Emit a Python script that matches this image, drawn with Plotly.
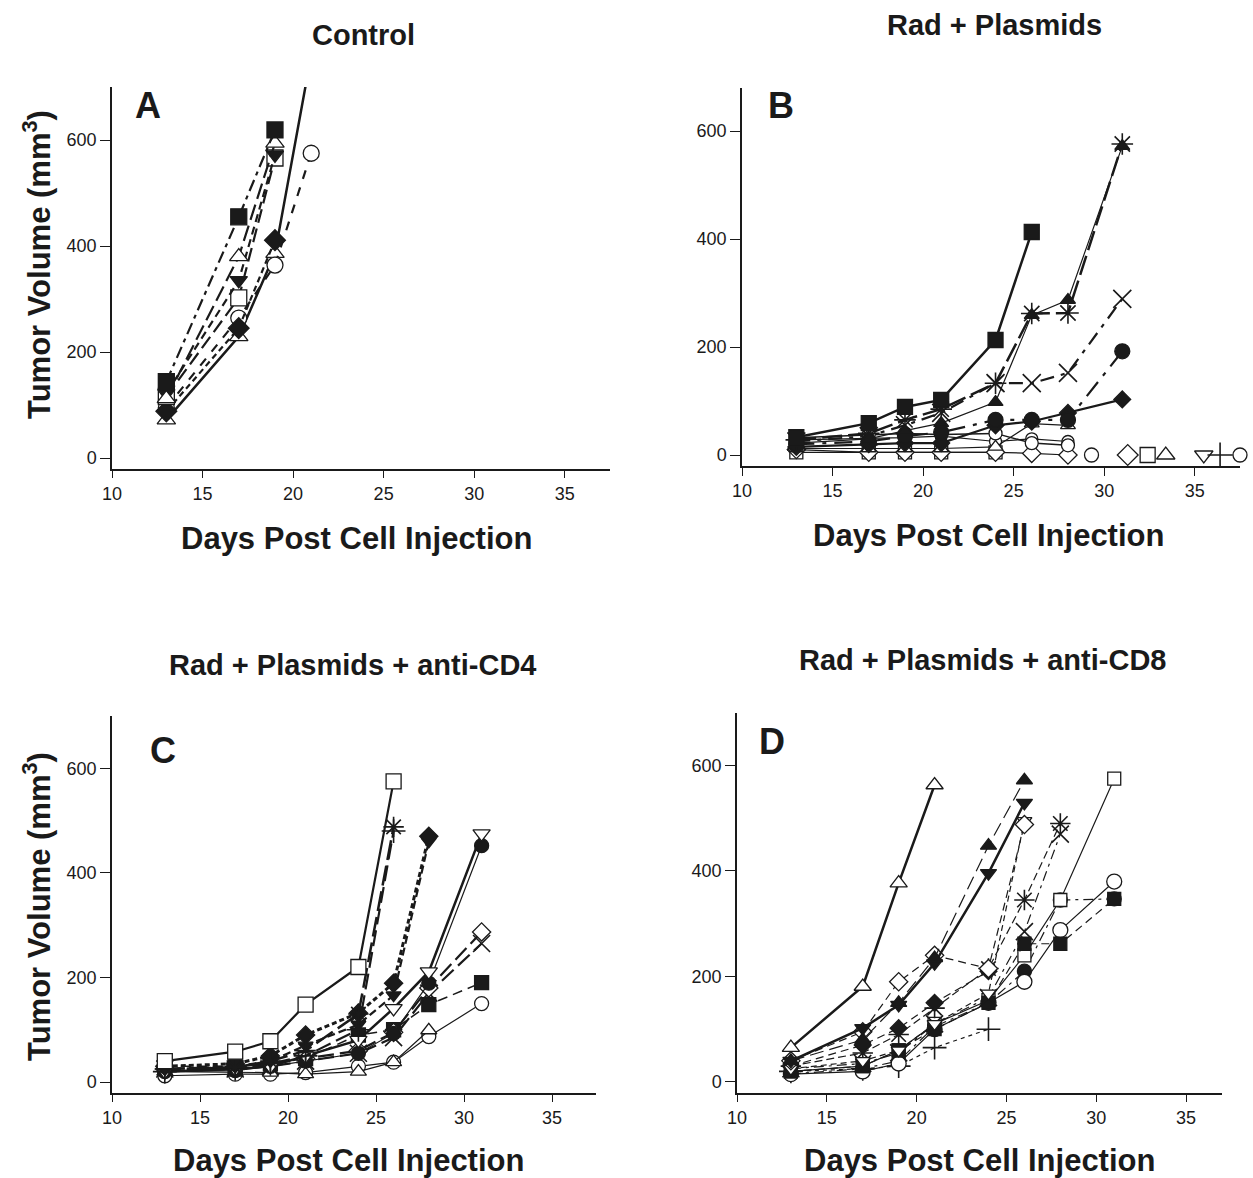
import plotly.graph_objects as go

W, H = 1253, 1178

# ---------------- DATA ----------------
X_TICKS = [10, 15, 20, 25, 30, 35]
Y_TICKS = [0, 200, 400, 600]

# Panel A - Control
A_days3 = [13, 17, 19]
A_days4 = [13, 17, 19, 21]
A_sq_filled = [144, 455, 619]
A_tri_open = [112, 380, 594]
A_tridown_filled = [122, 335, 572]
A_sq_open = [116, 302, 566]
A_circ_open = [95, 264, 364, 575]
A_diam_filled = [88, 245, 411]
A_tri_open2 = [72, 229, 386, 760]

# Panel B - Rad + Plasmids
B_days6 = [13, 17, 19, 21, 24, 26]
B_days7 = [13, 17, 19, 21, 24, 26, 28]
B_days8 = [13, 17, 19, 21, 24, 26, 28, 31]
B_days5 = [13, 17, 19, 21, 24]
B_sq_filled = [33, 59, 89, 102, 213, 413]
B_tri_filled = [22, 30, 45, 59, 98, 259, 287, 572]
B_asterisk = [28, 40, 65, 85, 133, 262, 263, 576]
B_x = [25, 35, 55, 78, 133, 133, 152, 289]
B_circ_filled = [20, 25, 35, 42, 65, 65, 65, 192]
B_diam_filled = [15, 20, 22, 22, 55, 62, 78, 103]
B_tri_open = [12, 12, 12, 12, 15, 58, 55]
B_circ_open = [32, 38, 40, 38, 40, 22, 18]
B_circ_open2 = [28, 30, 32, 35, 25, 30, 25]
B_diam_open = [10, 5, 5, 5, 5, 3, 0]
B_sq_open = [5, 5, 5, 5, 5]
# tumor-free mice shown on the baseline
B_free_circ_days = [29.3, 37.5]
B_free_circ_vals = [0, 0]
B_free_diam_days = [31.3]
B_free_sq_days = [32.4]
B_free_tri_days = [33.4]
B_free_tridown_days = [35.5]
B_free_plus_days = [36.4]
B_free_vals1 = [0]

# Panel C - Rad + Plasmids + anti-CD4
C_days6 = [13, 17, 19, 21, 24, 26]
C_days7 = [13, 17, 19, 21, 24, 26, 28]
C_days8 = [13, 17, 19, 21, 24, 26, 28, 31]
C_sq_open = [40, 58, 78, 148, 220, 575]
C_asterisk = [25, 28, 40, 60, 130, 488]
C_plus = [20, 25, 35, 50, 100, 480]
C_diam_filled = [30, 35, 50, 90, 132, 189, 470]
C_tridown_filled = [25, 30, 40, 70, 110, 166, 460]
C_tridown_open = [20, 25, 30, 50, 80, 141, 211, 475]
C_circ_filled = [20, 22, 30, 40, 55, 93, 189, 452]
C_diam_open = [25, 28, 35, 45, 60, 95, 180, 287]
C_x = [25, 25, 30, 40, 55, 85, 170, 265]
C_sq_filled = [30, 30, 35, 45, 90, 100, 148, 190]
C_tri_open = [20, 18, 18, 15, 20, 38, 99]
C_circ_open = [12, 15, 15, 18, 30, 38, 87, 150]

# Panel D - Rad + Plasmids + anti-CD8
D_days4 = [13, 17, 19, 21]
D_days5 = [13, 17, 19, 21, 24]
D_days6 = [13, 17, 19, 21, 24, 26]
D_days7 = [13, 17, 19, 21, 24, 26, 28]
D_days8 = [13, 17, 19, 21, 24, 26, 28, 31]
D_tri_open = [65, 181, 377, 563]
D_tri_filled = [40, 80, 150, 235, 448, 572]
D_tridown_filled = [40, 102, 146, 225, 396, 529]
D_diam_open = [40, 95, 190, 240, 215, 488]
D_tridown_open = [25, 40, 60, 110, 168, 495]
D_diam_filled = [30, 70, 102, 150, 210]
D_asterisk = [30, 55, 90, 140, 215, 345, 490]
D_x = [25, 35, 55, 110, 160, 285, 470]
D_sq_filled = [20, 30, 60, 100, 150, 262, 262, 347]
D_sq_open = [20, 30, 60, 110, 155, 240, 345, 575]
D_circ_open = [15, 20, 35, 100, 150, 190, 288, 380]
D_circ_filled = [15, 25, 40, 105, 150, 210, 345, 347]
D_plus = [20, 25, 30, 65, 100]

# ---------------- FIGURE ----------------
FONT = "Liberation Sans, Arial, sans-serif"
INK = "#1a1a1a"
fig = go.Figure()

SYM = {
    "sq": "square", "tri": "triangle-up", "trid": "triangle-down", "circ": "circle",
    "diam": "diamond", "x": "x-thin-open", "ast": "asterisk-open", "plus": "cross-thin-open",
}


def add(panel, x, y, sym, filled, dash="solid", width=1.5, size=13, mode="lines+markers", clip=True):
    ax = "" if panel == 1 else str(panel)
    thin = sym in ("x", "ast", "plus")
    fig.add_trace(go.Scatter(
        x=x, y=y, xaxis="x" + ax, yaxis="y" + ax, mode=mode, cliponaxis=clip,
        line=dict(color=INK, width=width, dash=dash),
        marker=dict(symbol=SYM[sym], size=size + (4 if thin else 0),
                    color=INK if (filled or thin) else "white",
                    line=dict(color=INK, width=1.6 if thin else 1.3)),
        showlegend=False, hoverinfo="x+y"))


# Panel A
add(1, A_days4, A_tri_open2, "tri", False, "solid", 2.5, 16)
add(1, A_days4, A_circ_open, "circ", False, "dash", 2.2, 16)
add(1, A_days3, A_diam_filled, "diam", True, "6px,4px", 2.2, 16)
add(1, A_days3, A_sq_open, "sq", False, "14px,6px", 2.2, 16)
add(1, A_days3, A_tridown_filled, "trid", True, "8px,5px", 2.2, 15)
add(1, A_days3, A_tri_open, "tri", False, "16px,6px", 2.2, 16)
add(1, A_days3, A_sq_filled, "sq", True, "12px,5px,4px,5px", 2.2, 16)

# Panel B
add(2, B_days5, B_sq_open, "sq", False, "solid", 1.2, 13)
add(2, B_days7, B_diam_open, "diam", False, "solid", 1.2, 14)
add(2, B_days7, B_circ_open2, "circ", False, "solid", 1.2, 12)
add(2, B_days7, B_circ_open, "circ", False, "solid", 1.5, 13)
add(2, B_days7, B_tri_open, "tri", False, "solid", 1.2, 13)
add(2, B_days8, B_diam_filled, "diam", True, "solid", 2.2, 13)
add(2, B_days8, B_circ_filled, "circ", True, "18px,8px,4px,8px", 2.2, 15)
add(2, B_days8, B_x, "x", False, "14px,7px,4px,7px", 2.2, 14)
add(2, B_days8, B_asterisk, "ast", False, "20px,6px", 2.5, 14)
add(2, B_days8, B_tri_filled, "tri", True, "solid", 1.2, 13)
add(2, B_days6, B_sq_filled, "sq", True, "solid", 2.5, 15)
add(2, B_free_circ_days, B_free_circ_vals, "circ", False, size=14, mode="markers", clip=False)
add(2, B_free_diam_days, B_free_vals1, "diam", False, size=16, mode="markers", clip=False)
add(2, B_free_sq_days, B_free_vals1, "sq", False, size=15, mode="markers", clip=False)
add(2, B_free_tri_days, B_free_vals1, "tri", False, size=16, mode="markers", clip=False)
add(2, B_free_tridown_days, B_free_vals1, "trid", False, size=16, mode="markers", clip=False)
add(2, B_free_plus_days, B_free_vals1, "plus", False, size=14, mode="markers", clip=False)

# Panel C
add(3, C_days8, C_circ_open, "circ", False, "solid", 1.2, 14)
add(3, C_days7, C_tri_open, "tri", False, "solid", 1.2, 14)
add(3, C_days8, C_sq_filled, "sq", True, "10px,6px", 1.5, 14)
add(3, C_days8, C_x, "x", False, "16px,6px", 2.2, 13)
add(3, C_days8, C_diam_open, "diam", False, "16px,6px", 2.2, 14)
add(3, C_days8, C_circ_filled, "circ", True, "solid", 1.2, 14)
add(3, C_days8, C_tridown_open, "trid", False, "solid", 2.5, 15)
add(3, C_days7, C_tridown_filled, "trid", True, "8px,4px", 2.2, 13)
add(3, C_days7, C_diam_filled, "diam", True, "5px,3px", 3, 14)
add(3, C_days6, C_plus, "plus", False, "16px,6px", 2.2, 13)
add(3, C_days6, C_asterisk, "ast", False, "20px,6px", 2.5, 13)
add(3, C_days6, C_sq_open, "sq", False, "solid", 2.2, 15)

# Panel D
add(4, D_days5, D_plus, "plus", False, "4px,4px", 1.2, 13)
add(4, D_days8, D_circ_filled, "circ", True, "10px,5px,3px,5px", 1.2, 14)
add(4, D_days8, D_circ_open, "circ", False, "solid", 1.2, 15)
add(4, D_days8, D_sq_open, "sq", False, "solid", 1.2, 13)
add(4, D_days8, D_sq_filled, "sq", True, "8px,5px", 1.2, 13)
add(4, D_days7, D_x, "x", False, "10px,5px,3px,5px", 1.2, 13)
add(4, D_days7, D_asterisk, "ast", False, "8px,4px", 1.2, 13)
add(4, D_days5, D_diam_filled, "diam", True, "8px,5px", 1.2, 13)
add(4, D_days6, D_tridown_open, "trid", False, "6px,4px", 1.2, 13)
add(4, D_days6, D_diam_open, "diam", False, "8px,5px", 1.2, 14)
add(4, D_days6, D_tridown_filled, "trid", True, "solid", 2.5, 14)
add(4, D_days6, D_tri_filled, "tri", True, "14px,6px", 1.2, 14)
add(4, D_days4, D_tri_open, "tri", False, "solid", 2.5, 15)


# ---------------- LAYOUT ----------------
def pxx(x):
    return x / W


def pyy(y):
    return 1 - y / H


PANELS = {
    # n: (x0, x1, ytop, ybottom, xrange, yrange)
    1: (112, 610, 87, 468.6, [10, 37.5], [-20, 700]),
    2: (742, 1240, 87.8, 465.8, [10, 37.5], [-20, 680]),
    3: (112, 596, 716, 1092.5, [10, 37.5], [-20, 700]),
    4: (737, 1222, 712.75, 1092.5, [10, 37], [-20, 700]),
}

layout = dict(
    template="none",
    width=W, height=H, autosize=False, margin=dict(l=0, r=0, t=0, b=0, pad=0),
    paper_bgcolor="white", plot_bgcolor="white",
    font=dict(family=FONT, color=INK),
)
for n, (x0, x1, yt, yb, xr, yr) in PANELS.items():
    s = "" if n == 1 else str(n)
    layout["xaxis" + s] = dict(
        domain=[pxx(x0), pxx(x1)], range=xr, anchor="y" + s, automargin=False,
        showline=True, linecolor=INK, linewidth=1.5, mirror=False,
        ticks="outside", ticklen=8, tickwidth=1.2, tickcolor=INK,
        tickvals=X_TICKS, tickfont=dict(size=18, family=FONT, color=INK),
        showgrid=False, zeroline=False, fixedrange=True)
    layout["yaxis" + s] = dict(
        domain=[pyy(yb), pyy(yt)], range=yr, anchor="x" + s, automargin=False,
        showline=True, linecolor=INK, linewidth=1.5,
        ticks="outside", ticklen=10, tickwidth=1.2, tickcolor=INK,
        tickvals=Y_TICKS, tickfont=dict(size=18, family=FONT, color=INK),
        showgrid=False, zeroline=False, fixedrange=True)

ann = []


def text(t, x, y, size, angle=0):
    ann.append(dict(text=t, x=pxx(x), y=pyy(y), xref="paper", yref="paper",
                    xanchor="center", yanchor="middle", showarrow=False, textangle=angle,
                    font=dict(size=size, family=FONT, color=INK)))


text("<b>Control</b>", 363, 35, 29)
text("<b>Rad + Plasmids</b>", 994, 25, 29)
text("<b>Rad + Plasmids + anti-CD4</b>", 352, 665, 29)
text("<b>Rad + Plasmids + anti-CD8</b>", 982, 660, 29)
for (cx, cy) in [(357, 538), (988, 535), (348, 1160), (980, 1160)]:
    text("<b>Days Post Cell Injection</b>", cx, cy, 31)
text("<b>Tumor Volume (mm<sup>3</sup>)</b>", 37, 265, 31, -90)
text("<b>Tumor Volume (mm<sup>3</sup>)</b>", 37, 907, 31, -90)
text("<b>A</b>", 148, 106, 36)
text("<b>B</b>", 781, 105, 36)
text("<b>C</b>", 163, 750, 36)
text("<b>D</b>", 772, 741, 36)

layout["annotations"] = ann
fig.update_layout(**layout)
fig.write_html(
    "out.html",
    config={"responsive": False, "displayModeBar": False},
    post_script="document.body.style.margin='0';document.body.style.overflow='hidden';",
)
